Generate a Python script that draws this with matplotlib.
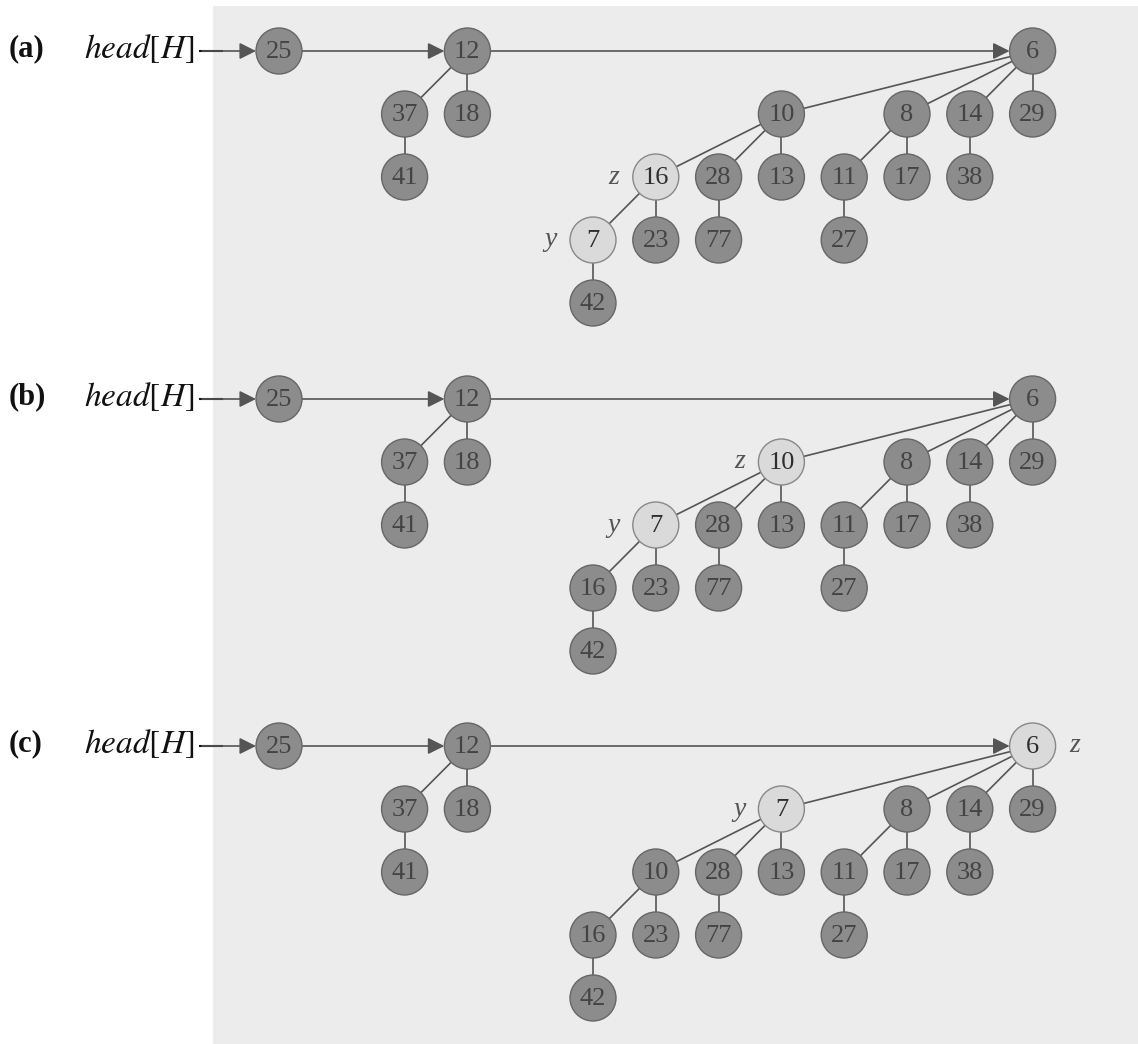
import matplotlib
matplotlib.use("Agg")
import matplotlib.pyplot as plt
from matplotlib.patches import Circle, Rectangle, FancyArrowPatch

# ---------------- data ----------------
panel_labels = ["(a)", "(b)", "(c)"]
root_lists = [[25, 12, 6], [25, 12, 6], [25, 12, 6]]

# keys, parent keys, grid column, grid row for each panel
a_keys   = [25, 12, 37, 18, 41, 6, 10, 8, 14, 29, 16, 28, 13, 11, 17, 38, 7, 23, 77, 27, 42]
a_parent = [None, None, 12, 12, 37, None, 6, 6, 6, 6, 10, 10, 10, 8, 8, 14, 16, 16, 28, 11, 7]
a_col    = [-5, -2, -3, -2, -3, 7, 3, 5, 6, 7, 1, 2, 3, 4, 5, 6, 0, 1, 2, 4, 0]
a_row    = [0, 0, 1, 1, 2, 0, 1, 1, 1, 1, 2, 2, 2, 2, 2, 2, 3, 3, 3, 3, 4]
a_light  = [16, 7]
a_marks  = {16: ("z", "left"), 7: ("y", "left")}

b_keys   = [25, 12, 37, 18, 41, 6, 10, 8, 14, 29, 7, 28, 13, 11, 17, 38, 16, 23, 77, 27, 42]
b_parent = [None, None, 12, 12, 37, None, 6, 6, 6, 6, 10, 10, 10, 8, 8, 14, 7, 7, 28, 11, 16]
b_col    = [-5, -2, -3, -2, -3, 7, 3, 5, 6, 7, 1, 2, 3, 4, 5, 6, 0, 1, 2, 4, 0]
b_row    = [0, 0, 1, 1, 2, 0, 1, 1, 1, 1, 2, 2, 2, 2, 2, 2, 3, 3, 3, 3, 4]
b_light  = [10, 7]
b_marks  = {10: ("z", "left"), 7: ("y", "left")}

c_keys   = [25, 12, 37, 18, 41, 6, 7, 8, 14, 29, 10, 28, 13, 11, 17, 38, 16, 23, 77, 27, 42]
c_parent = [None, None, 12, 12, 37, None, 6, 6, 6, 6, 7, 7, 7, 8, 8, 14, 10, 10, 28, 11, 16]
c_col    = [-5, -2, -3, -2, -3, 7, 3, 5, 6, 7, 1, 2, 3, 4, 5, 6, 0, 1, 2, 4, 0]
c_row    = [0, 0, 1, 1, 2, 0, 1, 1, 1, 1, 2, 2, 2, 2, 2, 2, 3, 3, 3, 3, 4]
c_light  = [6, 7]
c_marks  = {6: ("z", "right"), 7: ("y", "left")}

panels = [
    (a_keys, a_parent, a_col, a_row, a_light, a_marks),
    (b_keys, b_parent, b_col, b_row, b_light, b_marks),
    (c_keys, c_parent, c_col, c_row, c_light, c_marks),
]

# ---------------- layout / style ----------------
W, H = 1138, 1044
X0, DX = 593, 62.8
TOPS = [51, 399, 746]
DY = 63
R = 23
SERIF = ["Liberation Serif", "DejaVu Serif"]
DARK_FILL = "#8c8c8c"
DARK_EDGE = "#666666"
LIGHT_FILL = "#dadada"
LIGHT_EDGE = "#888888"
LINE = "#555555"

fig = plt.figure(figsize=(W / 100, H / 100), dpi=100)
ax = fig.add_axes([0, 0, 1, 1])
ax.set_xlim(0, W)
ax.set_ylim(H, 0)
ax.set_aspect("equal")
ax.axis("off")

ax.add_patch(Rectangle((213, 6), W - 213, H - 6, facecolor="#ececec",
                       edgecolor="none", zorder=0))

for p, (keys, parents, cols, rows, light, marks) in enumerate(panels):
    top = TOPS[p]
    pos = {k: (X0 + DX * c, top + DY * r) for k, c, r in zip(keys, cols, rows)}

    # panel label and head pointer
    ax.text(9, top - 2, panel_labels[p], fontsize=22, family=SERIF,
            fontweight="bold", va="center", ha="left", color="#111111", zorder=5)
    ax.text(84, top - 2, r"$\mathit{head}[\mathit{H}]$", fontsize=24,
            va="center", ha="left", color="#111111", zorder=5,
            math_fontfamily="stix")
    ax.plot([200, 222], [top, top], color="#111111", lw=1.5, zorder=2)

    # root list arrows
    rl = root_lists[p]
    starts = [(202, top)] + [pos[k] for k in rl[:-1]]
    for i, (s, k) in enumerate(zip(starts, rl)):
        e = pos[k]
        sx = s[0] if i == 0 else s[0] + R
        ax.add_patch(FancyArrowPatch((sx, e[1]), (e[0] - R, e[1]),
                                     arrowstyle="-|>,head_length=10,head_width=5",
                                     color="#555555", lw=1.2,
                                     shrinkA=0, shrinkB=0, zorder=2))

    # tree edges
    for k, par in zip(keys, parents):
        if par is None:
            continue
        (x1, y1), (x2, y2) = pos[k], pos[par]
        ax.plot([x1, x2], [y1, y2], color=LINE, lw=1.2, zorder=1)

    # nodes
    for k in keys:
        x, y = pos[k]
        is_light = k in light
        ax.add_patch(Circle((x, y), R,
                            facecolor=LIGHT_FILL if is_light else DARK_FILL,
                            edgecolor=LIGHT_EDGE if is_light else DARK_EDGE,
                            lw=1.0, zorder=3))
        ax.text(x, y + 1, str(k), fontsize=19, family=SERIF, ha="center",
                va="center", color="#2e2e2e" if is_light else "#444444",
                zorder=4)
        if k in marks:
            lab, side = marks[k]
            dx = -42 if side == "left" else 42
            ax.text(x + dx, y, lab, fontsize=20, family=SERIF, style="italic",
                    ha="center", va="center", color="#555555", zorder=4)

fig.savefig("out.png", dpi=100)
